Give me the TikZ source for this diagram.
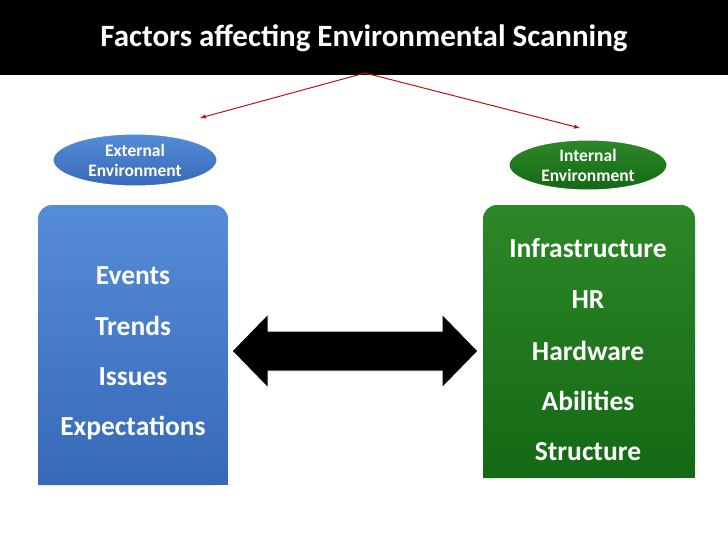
\documentclass[tikz,border=0pt]{standalone}
\usepackage{fontspec}
\setmainfont{Carlito}
\usetikzlibrary{shapes.geometric}
\definecolor{blu}{RGB}{55,105,185}
\definecolor{bluL}{RGB}{85,140,215}
\definecolor{grn}{RGB}{20,105,20}
\definecolor{grnL}{RGB}{45,135,40}
\definecolor{arr}{RGB}{180,20,20}
\tikzset{
 ell/.style={ellipse,draw=white,line width=1pt,text=white,font=\fontsize{17.5}{20}\selectfont\bfseries,align=center,inner sep=0pt},
 boxtxt/.style={text=white,font=\fontsize{27.5}{32}\selectfont\bfseries,align=center},
 redarr/.style={draw=arr,line width=1pt,-latex}
}
\begin{document}
\begin{tikzpicture}[x=1pt,y=-1pt]
\useasboundingbox (0,0) rectangle (728,546);
\fill[white] (0,0) rectangle (728,546);
\fill[black] (0,0) rectangle (728,75);
\node[text=white,font=\fontsize{31}{36}\selectfont\bfseries] (title) at (364,38) {Factors affecting Environmental Scanning};
\coordinate (src) at (365,73);
\node[ell,minimum width=164,minimum height=52,top color=bluL,bottom color=blu] (ext) at (135,160) {External\\Environment};
\node[ell,minimum width=158,minimum height=50,top color=grnL,bottom color=grn] (int) at (588,165) {Internal\\Environment};
\draw[redarr] (src) -- (200,118);
\draw[redarr] (src) -- (580,128);
\shade[top color=bluL,bottom color=blu,rounded corners=14] (38,485) -- (38,205) -- (228,205) -- (228,485) [sharp corners] -- cycle;
\fill[blu] (38,470) rectangle (228,485);
\shade[top color=grnL,bottom color=grn,rounded corners=14] (483,478) -- (483,205) -- (695,205) -- (695,478) [sharp corners]-- cycle;
\fill[grn] (483,465) rectangle (695,478);
\node[boxtxt] (l1) at (133,276) {Events};
\node[boxtxt] (l2) at (133,326) {Trends};
\node[boxtxt] (l3) at (133,377) {Issues};
\node[boxtxt] (l4) at (133,428) {Expectations};
\node[boxtxt] (r1) at (588,248) {Infrastructure};
\node[boxtxt] (r2) at (588,300) {HR};
\node[boxtxt] (r3) at (588,351) {Hardware};
\node[boxtxt] (r4) at (588,401) {Abilities};
\node[boxtxt] (r5) at (588,452) {Structure};
\fill[black,draw=white,line width=1pt] (232,351) -- (268,314) -- (268,331) -- (442,331) -- (442,314) -- (478,351) -- (442,388) -- (442,371) -- (268,371) -- (268,388) -- cycle;
\end{tikzpicture}
\end{document}
